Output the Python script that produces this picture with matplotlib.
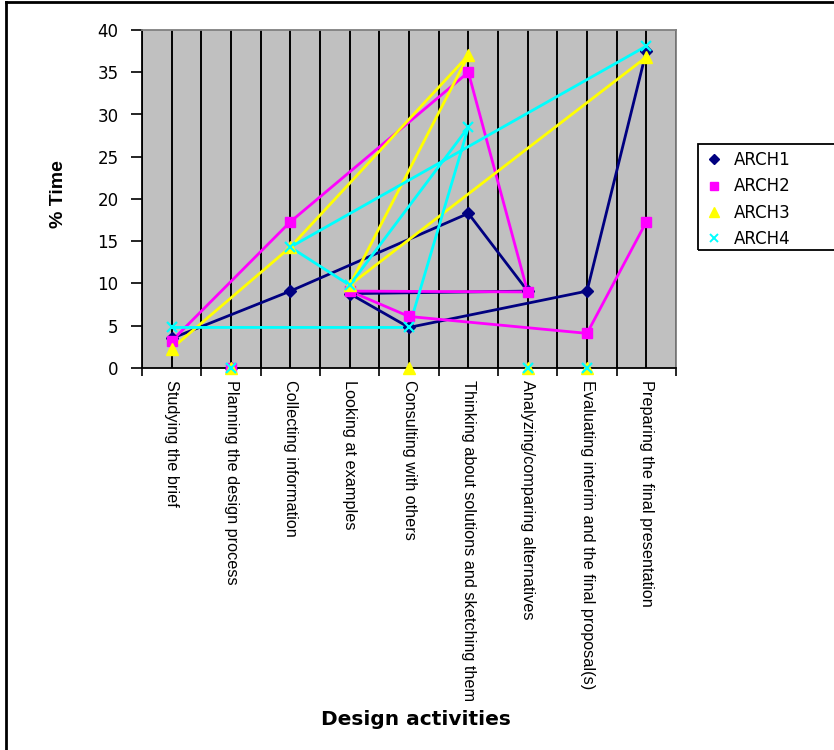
import numpy as np
import matplotlib
matplotlib.use('Agg')
from matplotlib import pyplot as plt
from matplotlib.lines import Line2D
from matplotlib.patches import Rectangle

plt.rcParams['font.family'] = ['Liberation Sans', 'DejaVu Sans']

categories = ['Studying the brief', 'Planning the design process', 'Collecting information',
              'Looking at examples', 'Consulting with others',
              'Thinking about solutions and sketching them', 'Analyzing/comparing alternatives',
              'Evaluating interim and the final proposal(s)', 'Preparing the final presentation']

# % time per activity (same order as categories)
arch1 = [3.5, 0, 9.1, 8.8, 4.8, 18.3, 9.1, 9.1, 37.5]
arch2 = [3.2, 0, 17.3, 9.1, 6.1, 35.0, 9.0, 4.1, 17.3]
arch3 = [2.3, 0, 14.3, 9.8, 0, 37.0, 0, 0, 36.8]
arch4 = [4.8, 0, 14.3, 9.8, 4.8, 28.5, 0, 0, 38.1]

# order in which the points are joined (category indices)
order1 = [0, 2, 5, 6, 3, 4, 7, 8]
order2 = [0, 2, 5, 6, 3, 4, 7, 8]
order3 = [0, 2, 5, 3, 8]
order4 = [0, 4, 5, 3, 2, 8]

series = [('ARCH1', arch1, order1, '#000080', 'D', 6.5),
          ('ARCH2', arch2, order2, '#FF00FF', 's', 7),
          ('ARCH3', arch3, order3, '#FFFF00', '^', 8.5),
          ('ARCH4', arch4, order4, '#00FFFF', 'x', 7)]

fig = plt.figure(figsize=(8.34, 7.5), dpi=100)
ax = fig.add_axes([142/834, 1-368/750, 534/834, 338/750])
ax.set_facecolor('#C0C0C0')

x = np.arange(len(categories))
for k in np.arange(-0.5, len(categories), 0.5):
    ax.axvline(k, color='black', lw=1.4, zorder=1)

for name, vals, order, col, mk, ms in series:
    ax.plot(order, [vals[i] for i in order], color=col, lw=2, zorder=3)
    ax.plot(x, vals, linestyle='none', marker=mk, color=col, ms=ms,
            mew=1.6 if mk == 'x' else 1, zorder=4, clip_on=False)

ax.set_xlim(-0.5, len(categories) - 0.5)
ax.set_ylim(0, 40)
ax.set_yticks(range(0, 41, 5))
ax.set_yticklabels([str(v) for v in range(0, 41, 5)], family='DejaVu Sans', fontsize=12)
ax.set_xticks(x)
ax.set_xticklabels(categories, rotation=270, fontsize=11.7, va='top', ha='center')
ax.set_xticks(np.arange(-0.5, len(categories), 1), minor=True)
ax.tick_params(axis='x', which='major', length=0, pad=9)
ax.tick_params(axis='x', which='minor', length=6, width=1.2, color='black')
ax.tick_params(axis='y', length=8, width=1.2, pad=9)
for s in ['left', 'bottom']:
    ax.spines[s].set_color('black')
    ax.spines[s].set_linewidth(1.3)
for s in ['top', 'right']:
    ax.spines[s].set_color('#808080')
    ax.spines[s].set_linewidth(1.3)

ax.set_ylabel('% Time', fontsize=14, fontweight='bold')
ax.yaxis.set_label_coords((67-142)/534, (368-194)/338)
ax.set_xlabel('Design activities', fontsize=14.5, fontweight='bold', family='DejaVu Sans')
ax.xaxis.set_label_coords((416-142)/534, (368-720)/338)
ax.xaxis.label.set_va('center')

# legend
handles = [Line2D([], [], linestyle='none', marker=mk, color=col, ms=ms*0.8,
                  mew=1.4 if mk == 'x' else 1) for _, _, _, col, mk, ms in series]
leg = fig.legend(handles, [s[0] for s in series], loc='upper left',
                 bbox_to_anchor=(706/834, 1-151/750), frameon=False,
                 prop={'family': 'DejaVu Sans', 'size': 12},
                 handlelength=1.0, handletextpad=0.7, labelspacing=0.5,
                 borderaxespad=0, borderpad=0)
fig.patches.append(Rectangle((698/834, 1-250/750), 0.3, 106/750, transform=fig.transFigure,
                             fill=False, edgecolor='black', lw=1.3))

# outer chart border (top and left visible)
fig.add_artist(Line2D([6/834, 1], [1-2/750, 1-2/750], transform=fig.transFigure,
                      color='black', lw=2))
fig.add_artist(Line2D([6/834, 6/834], [0, 1-2/750], transform=fig.transFigure,
                      color='black', lw=2))

plt.savefig('out.png', dpi=100)
